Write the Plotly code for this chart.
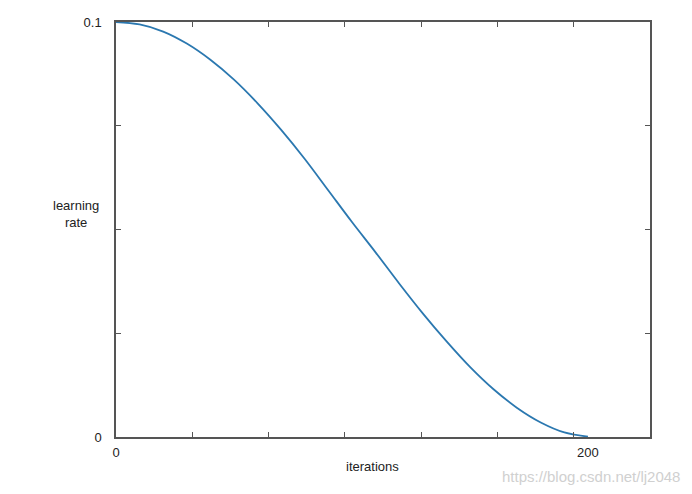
import plotly.graph_objects as go

iterations = [0, 10, 20, 30, 40, 50, 60, 70, 80, 90, 100, 110, 120, 130, 140, 150, 160, 170, 180, 190, 200]
learning_rate = [0.1, 0.0994, 0.0977, 0.0948, 0.0909, 0.0861, 0.0804, 0.0740, 0.0670, 0.0594, 0.0518,
                 0.0445, 0.0370, 0.0298, 0.0231, 0.0169, 0.0115, 0.0070, 0.0035, 0.0011, 0.0001]
x_tick_vals = [0, 200]
x_tick_text = ["0", "200"]
y_tick_vals = [0, 0.1]
y_tick_text = ["0", "0.1"]

font = "Liberation Sans, Arial, sans-serif"
axis_col = "#555555"
x_max = 226.3
x_marks = [x_max * k / 7 for k in range(1, 7)]
y_marks = [0.025, 0.05, 0.075]

fig = go.Figure()
fig.add_trace(go.Scatter(x=iterations, y=learning_rate, mode="lines",
                         line=dict(color="#2b78b0", width=1.8, shape="spline"),
                         showlegend=False))
fig.add_trace(go.Scatter(x=iterations, y=learning_rate, mode="lines", xaxis="x2", yaxis="y2",
                         line=dict(color="#2b78b0", width=1.8, shape="spline"),
                         opacity=0, hoverinfo="skip", showlegend=False))

fig.update_layout(
    width=676, height=478,
    margin=dict(l=108, r=34, t=7, b=49),
    paper_bgcolor="white", plot_bgcolor="white",
    font=dict(family=font, size=13, color="#222222"),
    xaxis=dict(range=[0, x_max], tickvals=x_tick_vals, ticktext=x_tick_text,
               ticks="", showgrid=False, zeroline=False,
               showline=True, linecolor=axis_col, linewidth=1.5, mirror=True,
               minor=dict(tickvals=x_marks, ticks="inside", ticklen=5,
                          tickcolor=axis_col, tickwidth=1, showgrid=False),
               ticklabelstandoff=3,
               tickfont=dict(size=13)),
    yaxis=dict(range=[0, 0.1], tickvals=y_tick_vals, ticktext=y_tick_text,
               ticks="", showgrid=False, zeroline=False,
               showline=True, linecolor=axis_col, linewidth=1.5, mirror=True,
               minor=dict(tickvals=y_marks, ticks="inside", ticklen=5,
                          tickcolor=axis_col, tickwidth=1, showgrid=False),
               ticklabelstandoff=10,
               tickfont=dict(size=13)),
    xaxis2=dict(overlaying="x", side="top", range=[0, x_max], tickvals=x_marks,
                ticks="inside", ticklen=5, tickcolor=axis_col, tickwidth=1,
                showticklabels=False, showgrid=False, zeroline=False, showline=False),
    yaxis2=dict(overlaying="y", side="right", range=[0, 0.1], tickvals=y_marks,
                ticks="inside", ticklen=5, tickcolor=axis_col, tickwidth=1,
                showticklabels=False, showgrid=False, zeroline=False, showline=False),
    annotations=[
        dict(text="learning<br>rate", xref="paper", yref="paper", x=-0.075, y=0.538,
             xanchor="center", yanchor="middle", showarrow=False,
             font=dict(size=13, color="#222222")),
        dict(text="iterations", xref="paper", yref="paper", x=0.481, y=-0.071,
             xanchor="center", yanchor="middle", showarrow=False,
             font=dict(size=13, color="#222222")),
        dict(text="https://blog.csdn.net/lj2048", xref="paper", yref="paper", x=1.06, y=-0.095,
             xanchor="right", yanchor="middle", showarrow=False,
             font=dict(size=15, color="#d0d0d0")),
    ],
)

fig.write_html("out.html")
